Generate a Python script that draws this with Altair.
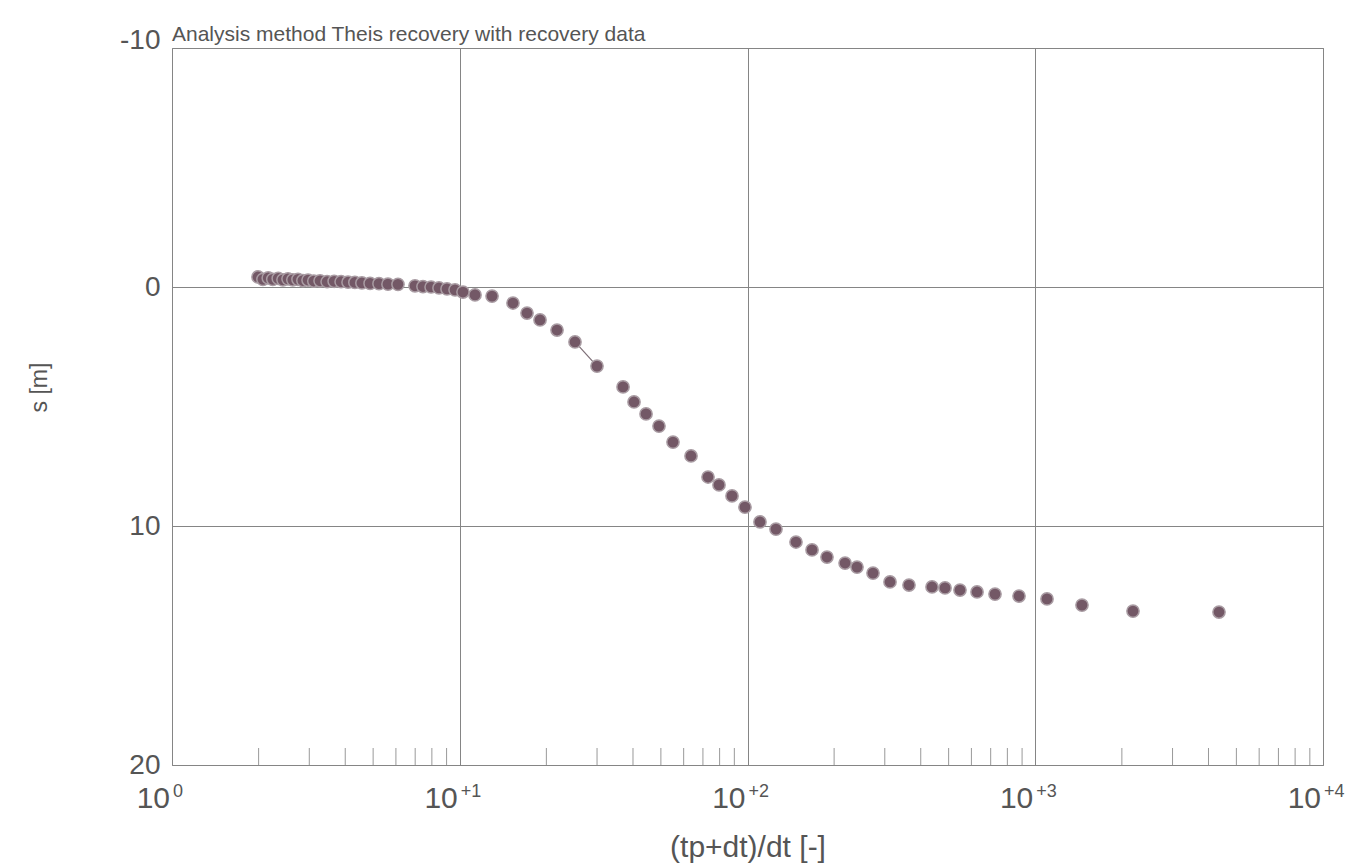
import altair as alt
import pandas as pd

# ---- data ----
ratio = [1.99, 2.07, 2.16, 2.24, 2.34, 2.43, 2.53, 2.63, 2.74, 2.85, 2.97, 3.11,
         3.27, 3.46, 3.66, 3.87, 4.09, 4.32, 4.57, 4.88, 5.24, 5.63, 6.10, 6.99,
         7.45, 7.95, 8.47, 9.03, 9.63, 10.26, 11.30, 12.95, 15.31, 17.13, 19.01,
         21.78, 25.15, 29.99, 36.94, 40.33, 44.40, 49.25, 55.09, 63.64, 72.91,
         79.61, 88.35, 98.0, 110.5, 125.6, 147.4, 167.6, 188.9, 218.3, 240.2,
         273.0, 312.8, 364.1, 437.8, 485.8, 547.6, 627.6, 724.7, 878.2, 1098.6,
         1453.5, 2186, 4351]
drawdown = [-0.42, -0.32, -0.38, -0.32, -0.36, -0.30, -0.34, -0.30, -0.32, -0.27,
            -0.29, -0.25, -0.26, -0.22, -0.24, -0.22, -0.20, -0.19, -0.17, -0.15,
            -0.14, -0.12, -0.11, -0.05, -0.02, 0.0, 0.04, 0.08, 0.12, 0.21, 0.33,
            0.38, 0.67, 1.09, 1.38, 1.80, 2.30, 3.31, 4.18, 4.81, 5.31, 5.82, 6.49,
            7.07, 7.95, 8.28, 8.74, 9.21, 9.83, 10.13, 10.67, 11.00, 11.30, 11.55,
            11.72, 11.97, 12.34, 12.47, 12.55, 12.59, 12.68, 12.76, 12.85, 12.93,
            13.05, 13.31, 13.56, 13.60]
# short visible fitted-line segment
fit_x = [25.15, 29.99]
fit_s = [2.30, 3.31]

decades = [1, 10, 100, 1000, 10000]
decade_base = ["10", "10", "10", "10", "10"]
decade_exp = ["0", "+1", "+2", "+3", "+4"]
minor_ticks = [m * d for d in [1, 10, 100, 1000] for m in range(2, 10)]
y_ticks = [-10, 0, 10, 20]

title_text = "Analysis method Theis recovery with recovery data"
x_title = "(tp+dt)/dt [-]"
y_title = "s [m]"

# ---- layout ----
W, H = 1151, 717
FONT = "Liberation Sans"
TXT = "#555555"
GRID = "#858585"

pts = pd.DataFrame({"x": ratio, "s": drawdown})
fit = pd.DataFrame({"x": fit_x, "s": fit_s})
dec = pd.DataFrame({"x": decades, "base": decade_base, "exp": decade_exp})
minor = pd.DataFrame({"x": minor_ticks})
ttl = pd.DataFrame({"t": [title_text]})

xscale = alt.Scale(type="log", domain=[1, 10000], nice=False)
yscale = alt.Scale(domain=[-10, 20], reverse=True, nice=False)

xaxis = alt.Axis(values=decades, grid=True, gridColor=GRID, gridWidth=1,
                 labels=False, ticks=False, domain=False,
                 title=x_title, titleFont=FONT, titleFontSize=30,
                 titleFontWeight="normal", titleColor=TXT,
                 titleX=W / 2, titleY=82, titleAlign="center",
                 titleBaseline="middle")
yaxis = alt.Axis(values=y_ticks, grid=True, gridColor=GRID, gridWidth=1,
                 ticks=False, domain=False,
                 labelExpr="'' + datum.value",
                 labelFont=FONT, labelFontSize=28, labelColor=TXT, labelPadding=12,
                 labelBaseline={"condition": {"test": "datum.value == -10",
                                              "value": "alphabetic"},
                                "value": "middle"},
                 labelFlush=False, labelOverlap=False,
                 title=y_title, titleFont=FONT, titleFontSize=23,
                 titleFontWeight="normal", titleColor=TXT,
                 titleX=-133, titleY=339, titleAngle=270,
                 titleAlign="center", titleBaseline="middle")

line = alt.Chart(fit).mark_line(color="#7d6e76", strokeWidth=1.2).encode(
    x=alt.X("x:Q", scale=xscale, axis=xaxis),
    y=alt.Y("s:Q", scale=yscale, axis=yaxis),
)

points = alt.Chart(pts).mark_point(
    filled=True, shape="circle", size=150, fill="#735866", opacity=1,
    stroke="#a99ca3", strokeWidth=1.5,
).encode(
    x=alt.X("x:Q", scale=xscale),
    y=alt.Y("s:Q", scale=yscale),
)

ticks = alt.Chart(minor).mark_rule(color="#999999", strokeWidth=1).encode(
    x=alt.X("x:Q", scale=xscale),
    y=alt.value(H),
    y2=alt.value(H - 17),
)

lab_base = alt.Chart(dec).mark_text(
    align="right", baseline="alphabetic", font=FONT, fontSize=30, color=TXT, dx=-2
).encode(
    x=alt.X("x:Q", scale=xscale),
    y=alt.value(H + 43),
    text="base:N",
)

lab_exp = alt.Chart(dec).mark_text(
    align="left", baseline="alphabetic", font=FONT, fontSize=18, color=TXT, dx=1
).encode(
    x=alt.X("x:Q", scale=xscale),
    y=alt.value(H + 32),
    text="exp:N",
)

title = alt.Chart(ttl).mark_text(
    align="left", baseline="alphabetic", font=FONT, fontSize=21, color=TXT
).encode(
    x=alt.value(0),
    y=alt.value(-7),
    text="t:N",
)

chart = alt.layer(line, ticks, points, lab_base, lab_exp, title).properties(
    width=W, height=H,
    autosize=alt.AutoSizeParams(type="none"),
    padding={"left": 172, "top": 48, "right": 39, "bottom": 100},
    background="white",
).configure_view(stroke=GRID, strokeWidth=1)

chart.save("out.html", embed_options={"renderer": "svg", "actions": False})
